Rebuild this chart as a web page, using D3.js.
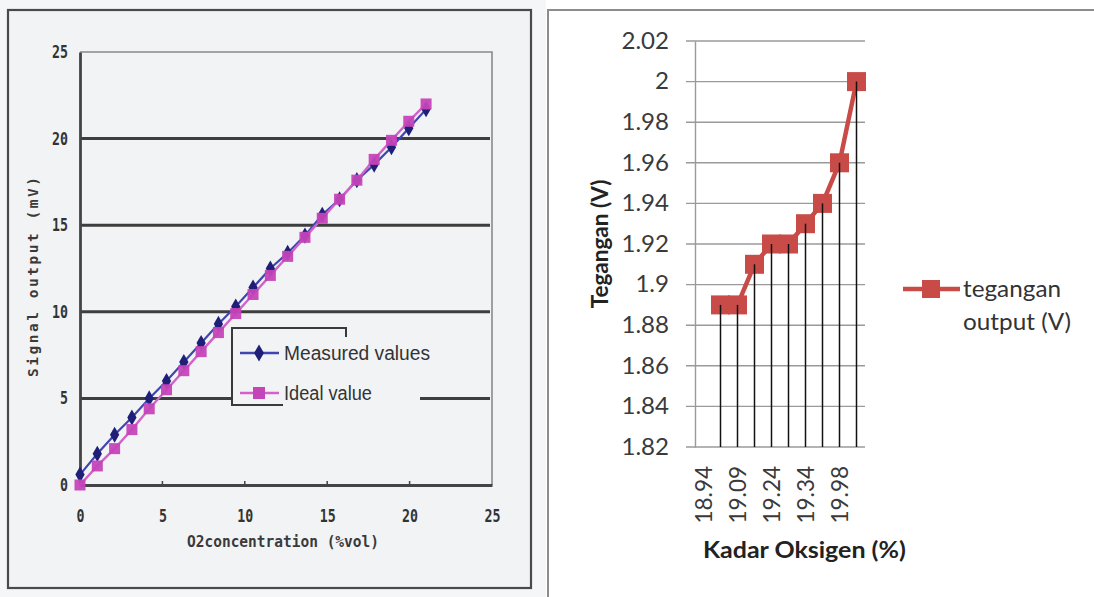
<!DOCTYPE html>
<html><head><meta charset="utf-8">
<script src="https://cdn.jsdelivr.net/npm/d3@7"></script>
<style>body{margin:0;background:#fff}svg{display:block}</style>
</head><body><svg id="c" width="1094" height="597"></svg>
<script>
// ---- Left chart data ----
const o2Conc   = [0,1.05,2.1,3.15,4.2,5.25,6.3,7.35,8.4,9.45,10.5,11.55,12.6,13.65,14.7,15.75,16.8,17.85,18.9,19.95,21];
const measured = [0.6,1.8,2.9,3.9,5.0,6.0,7.1,8.2,9.3,10.3,11.4,12.5,13.4,14.4,15.6,16.5,17.6,18.5,19.5,20.6,21.7];
const ideal    = [0,1.1,2.1,3.2,4.4,5.5,6.6,7.7,8.8,9.9,11.0,12.1,13.2,14.3,15.4,16.5,17.6,18.8,19.9,21.0,22.0];
const leftTicks = [0,5,10,15,20,25];
const leftGrid  = [5,10,15,20];
const leftSeries = ["Measured values","Ideal value"];

// ---- Right chart data ----
const oxyCategories = ["18.94","","19.09","","19.24","","19.34","","19.98",""]; // unlabeled categories unreadable
const tegangan = [null,1.89,1.89,1.91,1.92,1.92,1.93,1.94,1.96,2.00];
const rightTicks = [1.82,1.84,1.86,1.88,1.90,1.92,1.94,1.96,1.98,2.00,2.02];
const rightSeries = ["tegangan","output (V)"];

const svg = d3.select("#c");
const stretch = (sel,k)=>sel.each(function(){const w=this.getComputedTextLength();d3.select(this).attr("textLength",w*k).attr("lengthAdjust","spacingAndGlyphs");});

// ================= LEFT PANEL =================
svg.append("rect").attr("x",0).attr("y",0).attr("width",546).attr("height",597).attr("fill","#f5f6f8");
svg.append("rect").attr("x",8).attr("y",10).attr("width",523).attr("height",578)
  .attr("fill","#f2f3f5").attr("stroke","#4a4a4a").attr("stroke-width",2.2);

const xL = d3.scaleLinear().domain([0,25]).range([80,492]);
const yL = d3.scaleLinear().domain([0,25]).range([485,52]);
const L = svg.append("g");

// plot frame (top/right)
L.append("path").attr("d",`M${xL(0)},${yL(25)}H${xL(25)}V${yL(0)}`)
  .attr("fill","none").attr("stroke","#8a8a8a").attr("stroke-width",1.6);

// grid lines
L.selectAll(".g").data(leftGrid).join("line")
  .attr("x1",xL(0)).attr("x2",xL(25)-2).attr("y1",d=>yL(d)).attr("y2",d=>yL(d))
  .attr("stroke","#3e3e3e").attr("stroke-width",3);

// axes
const monoFont = "'DejaVu Sans Mono', monospace";
const axL = L.append("g").attr("transform",`translate(${xL(0)},0)`)
  .call(d3.axisLeft(yL).tickValues(leftTicks).tickSize(0).tickPadding(12));
const axB = L.append("g").attr("transform",`translate(0,${yL(0)})`)
  .call(d3.axisBottom(xL).tickValues(leftTicks).tickSize(0).tickPadding(25));
[axL,axB].forEach(a=>{
  a.select(".domain").attr("stroke","#444").attr("stroke-width",2.8);
  a.selectAll("text").attr("font-family",monoFont).attr("font-weight","bold")
    .attr("font-size",17).attr("fill","#333").call(stretch,0.78);
});
// small tick marks on x axis
L.selectAll(".tk").data(leftGrid).join("line")
  .attr("x1",d=>xL(d)).attr("x2",d=>xL(d)).attr("y1",yL(0)).attr("y2",yL(0)-4)
  .attr("stroke","#444").attr("stroke-width",1.5);

// axis titles
L.append("text").attr("transform",`translate(38,277) rotate(-90)`)
  .attr("text-anchor","middle").attr("font-family",monoFont).attr("font-weight","bold")
  .attr("font-size",14.5).attr("fill","#3a3a3a").attr("textLength",200).attr("lengthAdjust","spacing")
  .text("Signal output (mV)");
L.append("text").attr("x",283).attr("y",547).attr("text-anchor","middle")
  .attr("font-family",monoFont).attr("font-weight","bold").attr("font-size",15)
  .attr("fill","#3a3a3a").attr("textLength",192).attr("lengthAdjust","spacingAndGlyphs").text("O2concentration (%vol)");

// legend box (partially drawn, hides gridline)
L.append("rect").attr("x",232).attr("y",329).attr("width",188).attr("height",76).attr("fill","#f2f3f5");
L.append("path").attr("d","M346,337V328H232V405H283")
  .attr("fill","none").attr("stroke","#3a3a3a").attr("stroke-width",2);

// series lines
const lineL = (vals)=>d3.line().x((d,i)=>xL(o2Conc[i])).y(d=>yL(d))(vals);
L.append("path").attr("d",lineL(measured)).attr("fill","none").attr("stroke","#4046ad").attr("stroke-width",2.2);
L.append("path").attr("d",lineL(ideal)).attr("fill","none").attr("stroke","#d262c9").attr("stroke-width",2.4);

const diamond = d3.symbol().type(d3.symbolDiamond).size(75);
L.selectAll(".md").data(measured).join("path")
  .attr("d",diamond).attr("transform",(d,i)=>`translate(${xL(o2Conc[i])},${yL(d)})`)
  .attr("fill","#1f1f7a");
L.selectAll(".id").data(ideal).join("rect")
  .attr("x",(d,i)=>xL(o2Conc[i])-5.5).attr("y",d=>yL(d)-5.5)
  .attr("width",11).attr("height",11).attr("fill","#c445b8").attr("opacity",0.95);

// legend entries
const lgL = [
  {name:leftSeries[0], y:353, line:"#4046ad", mark:"#1f1f7a", shape:"d", tw:146},
  {name:leftSeries[1], y:393, line:"#d262c9", mark:"#c445b8", shape:"s", tw:88}
];
lgL.forEach((e,k)=>{
  L.append("line").attr("x1",240).attr("x2",279).attr("y1",e.y).attr("y2",e.y)
    .attr("stroke",e.line).attr("stroke-width",2.6);
  if(e.shape==="d") L.append("path").attr("d",d3.symbol().type(d3.symbolDiamond).size(85))
    .attr("transform",`translate(259,${e.y})`).attr("fill",e.mark);
  else L.append("rect").attr("x",253).attr("y",e.y-6).attr("width",12).attr("height",12).attr("fill",e.mark);
  L.append("text").attr("x",284).attr("y",e.y+7).attr("font-family","'Liberation Sans', Arial, sans-serif")
    .attr("font-size",20).attr("fill","#333").attr("textLength",e.tw).attr("lengthAdjust","spacingAndGlyphs")
    .text(e.name);
});

// ================= RIGHT PANEL =================
svg.append("rect").attr("x",548).attr("y",10).attr("width",560).attr("height",600)
  .attr("fill","#fff").attr("stroke","#8c8c8c").attr("stroke-width",2);

const R = svg.append("g");
const xR = d3.scaleBand().domain(d3.range(oxyCategories.length)).range([695,865]).padding(0);
const yR = d3.scaleLinear().domain([1.82,2.02]).range([447,41]);
const sansR = "Lato, 'Open Sans', sans-serif";
const fs = 22.5;

// gridlines
R.selectAll(".rg").data(rightTicks).join("line")
  .attr("x1",686).attr("x2",865).attr("y1",d=>yR(d)).attr("y2",d=>yR(d))
  .attr("stroke","#9a9a9a").attr("stroke-width",1.4);

// y axis
const axR = R.append("g").attr("transform","translate(695,0)")
  .call(d3.axisLeft(yR).tickValues(rightTicks).tickSize(0).tickPadding(26)
    .tickFormat(d=>String(+d.toFixed(2))));
axR.select(".domain").attr("stroke","#9a9a9a").attr("stroke-width",1.4);
axR.selectAll("text").attr("font-family",sansR).attr("font-size",fs).attr("fill","#3a3a3a").call(stretch,1.07);

// x axis
const axRB = R.append("g").attr("transform",`translate(0,${yR(1.82)})`)
  .call(d3.axisBottom(xR).tickSize(0).tickFormat(i=>oxyCategories[i]));
axRB.select(".domain").remove();
axRB.selectAll("text")
  .attr("transform","translate(1,19) rotate(-90)")
  .attr("y",0).attr("dy","0.35em").attr("text-anchor","end")
  .attr("font-family",sansR).attr("font-size",fs).attr("fill","#3a3a3a");

// axis titles
R.append("text").attr("transform",`translate(608,${(yR(1.82)+yR(2.02))/2}) rotate(-90)`)
  .attr("text-anchor","middle").attr("font-family",sansR).attr("font-weight","bold")
  .attr("font-size",fs).attr("fill","#222").text("Tegangan (V)");
R.append("text").attr("x",703).attr("y",558).attr("font-family",sansR).attr("font-weight","bold")
  .attr("font-size",fs).attr("fill","#222").text("Kadar Oksigen (%)").call(stretch,1.11);

// series
const pts = tegangan.map((v,i)=>({i,v})).filter(d=>d.v!==null);
const cx = i=>xR(i)+xR.bandwidth()/2;
R.append("path").attr("d",d3.line().x(d=>cx(d.i)).y(d=>yR(d.v))(pts))
  .attr("fill","none").attr("stroke","#c84b48").attr("stroke-width",4.5).attr("stroke-linejoin","round");
R.selectAll(".sq").data(pts).join("rect")
  .attr("x",d=>cx(d.i)-9.5).attr("y",d=>yR(d.v)-9.5).attr("width",19).attr("height",19)
  .attr("fill","#c84b48");
// drop lines
R.selectAll(".dl").data(pts).join("line")
  .attr("x1",d=>cx(d.i)).attr("x2",d=>cx(d.i)).attr("y1",d=>yR(d.v)).attr("y2",yR(1.82))
  .attr("stroke","#111").attr("stroke-width",1.5);

// legend
R.append("line").attr("x1",903).attr("x2",960).attr("y1",289).attr("y2",289)
  .attr("stroke","#c84b48").attr("stroke-width",4.5);
R.append("rect").attr("x",922).attr("y",280).attr("width",18).attr("height",18).attr("fill","#c84b48");
R.append("text").attr("x",963).attr("y",297).attr("font-family",sansR).attr("font-size",fs)
  .attr("fill","#333").text(rightSeries[0]).call(stretch,1.08);
R.append("text").attr("x",963).attr("y",330).attr("font-family",sansR).attr("font-size",fs)
  .attr("fill","#333").text(rightSeries[1]).call(stretch,1.08);
</script></body></html>
